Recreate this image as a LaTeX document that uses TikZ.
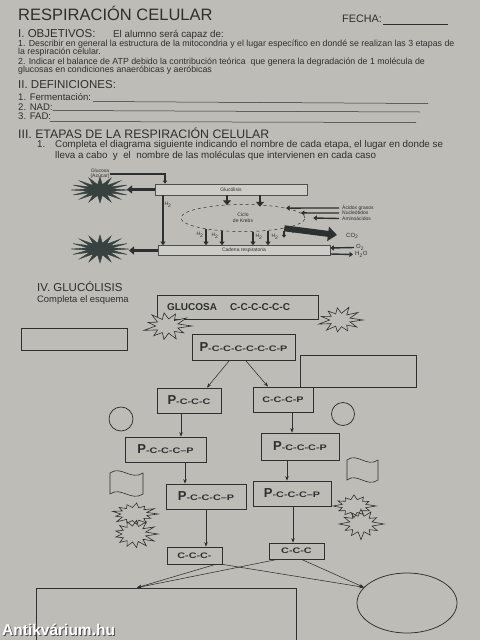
\documentclass[tikz,border=0pt]{standalone}
\usepackage{fontspec}
\setmainfont{Liberation Sans}
\usetikzlibrary{arrows.meta,calc,shapes.geometric}
\definecolor{paper}{RGB}{190,188,182}
\definecolor{ink}{RGB}{45,48,48}
\definecolor{boxfill}{RGB}{206,204,198}
\definecolor{stardark}{RGB}{55,66,64}
\newcommand\fs[1]{\fontsize{#1}{#1}\selectfont}
\newcommand\bigP{{\fs{13}\bfseries P}}
\newcommand\wc[1]{{\fs{8}\bfseries\scalebox{1.35}[1]{#1}}}
\newcommand\burst[8]{%
  \pgfmathtruncatemacro\bn{2*#5-1}%
  \begin{scope}[shift={(#1,#2)}]
  \draw[#8] (#3,0) \foreach \k in {1,...,\bn}{ -- ({#3*((1-mod(\k,2))*(1-0.22*abs(sin(\k*#7))) + mod(\k,2)*#6)*cos(\k*180/#5)},{#4*((1-mod(\k,2))*(1-0.22*abs(sin(\k*#7))) + mod(\k,2)*#6)*sin(\k*180/#5)}) } -- cycle;
  \end{scope}}
\begin{document}
\begin{tikzpicture}[x=1pt,y=-1pt,
  every node/.style={inner sep=0pt, text=ink},
  txt/.style={anchor=base west, font=\fs{8.8}},
  deftxt/.style={anchor=base west, font=\fs{9.6}},
  headtxt/.style={anchor=base west, font=\fs{11.5}},
  tinytxt/.style={font=\fs{5}},
  uline/.style={draw=ink, line width=0.5pt},
  pbox/.style={draw=ink!85, fill=boxfill, line width=0.6pt, font=\fs{5}},
  thickarr/.style={draw=ink, line width=2.8pt, -{Triangle[length=5pt 0 0,width=8pt 0 0]}},
  medarr/.style={draw=ink, line width=1.4pt, -{Triangle[length=3.5pt 0 0,width=5pt 0 0]}},
  bigarr/.style={draw=ink, line width=6pt, -{Triangle[length=9pt 0 0,width=14pt 0 0]}},
  gbox/.style={draw=ink, line width=0.75pt},
  arr/.style={draw=ink, line width=0.55pt, -{Stealth[length=4.5pt 0 0,width=3.5pt 0 0]}},
  inkline/.style={draw=ink, line width=0.6pt},
  darkstar/.style={fill=stardark, draw=stardark, line width=0.4pt},
  outstar/.style={draw=ink, line width=0.6pt},
]
\fill[paper] (0,0) rectangle (480,640);
\useasboundingbox (0,0) rectangle (480,640);

% ---------- header ----------
\node[anchor=base west, font=\fs{16.5}] (title) at (18,20.5) {RESPIRACIÓN CELULAR};
\node[anchor=base west, font=\fs{10.8}] (fecha) at (342,22) {FECHA:};
\draw[uline] ([xshift=1pt,yshift=-2.5pt]fecha.base east) -- ++(65,0);

% ---------- I ----------
\node[headtxt] (obj) at (18,37.5) {I. OBJETIVOS:};
\node[anchor=base west, font=\fs{9.8}] (capaz) at (113,37) {El alumno será capaz de:};
\node[txt] (o1a) at (18,46.5) {1. Describir en general la estructura de la mitocondria y el lugar específico en dondé se realizan las 3 etapas de};
\node[txt] (o1b) at (18,54.5) {la respiración celular.};
\node[txt] (o2a) at (18,64) {2. Indicar el balance de ATP debido la contribución teórica \ que genera la degradación de 1 molécula de};
\node[txt] (o2b) at (18,72) {glucosas en condiciones anaeróbicas y aeróbicas};

% ---------- II ----------
\node[headtxt] (def) at (18,88.5) {II. DEFINICIONES:};
\node[deftxt] (d1) at (18,100) {1. Fermentación:};
\draw[uline] (93,101.5) -- (428,103.5);
\node[deftxt] (d2) at (18,110) {2. NAD:};
\draw[uline] (53,110.5) -- (420,112);
\node[deftxt] (d3) at (18,119.5) {3. FAD:};
\draw[uline] (50,121.5) -- (416,122.5);

% ---------- III ----------
\node[anchor=base west, font=\fs{12.3}] (etapas) at (18,138) {III. ETAPAS DE LA RESPIRACIÓN CELULAR};
\node[anchor=base west, font=\fs{9.8}] (c1n) at (37,147.5) {1.};
\node[anchor=base west, font=\fs{9.8}] (c1a) at (55,147.5) {Completa el diagrama siguiente indicando el nombre de cada etapa, el lugar en donde se};
\node[anchor=base west, font=\fs{9.8}] (c1b) at (55,158) {lleva a cabo \ y \ el \ nombre de las moléculas que intervienen en cada caso};

% diagram
\node[pbox, minimum width=152pt, minimum height=11pt] (gly) at (231,189.5) {Glucólisis};
\node[pbox, minimum width=172pt, minimum height=10pt] (cad) at (244,250.5) {Cadena respiratoria};
\node[draw=ink, dashed, line width=0.5pt, ellipse, minimum width=124pt, minimum height=27pt, align=center, font=\fs{5}] (kreb) at (243,218) {Ciclo\\[1pt]de Krebs};
\node[tinytxt, align=center] (glc) at (100,174) {Glucosa\\(Azúcar)};
\draw[draw=ink, line width=1.2pt, -{Triangle[length=3pt 0 0,width=4pt 0 0]}] (glc.east) -| ([xshift=-66pt]gly.north);

\burst{100}{190}{29}{13}{16}{0.42}{0}{darkstar}
\burst{100}{249}{29}{14}{16}{0.42}{0}{darkstar}
\coordinate (st1) at (127,189.5);
\coordinate (st2) at (129,250.5);
\draw[thickarr] (gly.west) -- (st1);
\draw[thickarr] (cad.west) -- (st2);

\draw[thickarr] ([xshift=-4pt]gly.south) -- ([xshift=-16pt,yshift=-1pt]kreb.north);
\draw[thickarr] ([xshift=29pt]gly.south) -- ([xshift=17pt,yshift=-2.5pt]kreb.north);

\draw[draw=ink, line width=1.3pt, -{Triangle[length=3.5pt 0 0,width=5pt 0 0]}] ([xshift=-68pt]gly.south) -- ([xshift=-81pt]cad.north);
\node[tinytxt] (hv) at (168,205) {H\textsubscript{2}};

\foreach \a/\b/\c in {-37/-38/2.5,-21/-22/0.7,10/9/0,25/24/1.2}{
  \draw[medarr] ([xshift=\a pt,yshift=\c pt]kreb.south) -- ([xshift=\b pt]cad.north);}
\node[tinytxt] (h1) at (200,235) {H\textsubscript{2}};
\node[tinytxt] (h2) at (215,235.5) {H\textsubscript{2}};
\node[tinytxt] (h3) at (259,237) {H\textsubscript{2}};
\node[tinytxt] (h4) at (275,236.5) {H\textsubscript{2}};
\draw[draw=ink, line width=1.4pt, -{Triangle[length=3pt 0 0,width=4.5pt 0 0]}] ([xshift=41pt,yshift=1pt]kreb.south) -- ++(0,7);
\node[tinytxt] (h5) at (292,231) {H\textsubscript{2}};

\node[tinytxt, anchor=west] (ag) at (342,208) {Ácidos grasos};
\node[tinytxt, anchor=west] (nu) at (342,213) {Nucleótidos};
\node[tinytxt, anchor=west] (am) at (342,218.5) {Aminoácidos};
\draw[medarr] ([xshift=-3pt]ag.west) -- (kreb.13);
\draw[medarr] ([xshift=-3pt]nu.west) -- (kreb.5);
\draw[medarr] ([xshift=-3pt]am.west) -- ([xshift=8pt]kreb.east);

\node[anchor=west, font=\fs{6}] (co2) at (346,236) {CO\textsubscript{2}};
\draw[bigarr] (kreb.-14) -- ([xshift=-9pt,yshift=1pt]co2.west);
\node[anchor=west, font=\fs{6}] (o2) at (356,247.5) {O\textsubscript{2}};
\node[anchor=west, font=\fs{6}] (h2o) at (355,254.5) {H\textsubscript{2}O};
\draw[medarr] ([xshift=-2pt]o2.west) -- ([yshift=2.5pt]cad.east);
\draw[medarr] ([yshift=-3.5pt]cad.east) -- ([xshift=-2pt]h2o.west);

% ---------- IV ----------
\node[anchor=base west, font=\fs{11.5}] (glucol) at (37,291.5) {IV. GLUCÓLISIS};
\node[anchor=base west, font=\fs{9.4}] (esq) at (37,302) {Completa el esquema};

\node[gbox, minimum width=161pt, minimum height=24pt, font=\fs{10}\bfseries] (glu) at (237.5,307) {GLUCOSA\hspace{13pt}C-C-C-C-C-C\hspace*{18pt}};
\node[gbox, minimum width=106pt, minimum height=22pt] (lbox) at (74,339) {};
\node[gbox, minimum width=103pt, minimum height=26pt] (pcp6) at (243.5,347) {\bigP\wc{-C-C-C-C-C-C-P}};
\node[gbox, minimum width=116pt, minimum height=32pt] (rbox) at (358,371) {};
\node[gbox, minimum width=64pt, minimum height=25pt] (pccc) at (189,400.5) {\bigP\wc{-C-C-C}};
\node[gbox, minimum width=60pt, minimum height=25pt] (cccp) at (283,399.5) {\wc{C-C-C-P}};
\node[gbox, circle, minimum size=24pt] (cir1) at (121,419) {};
\node[gbox, circle, minimum size=23pt] (cir2) at (343,414) {};
\node[gbox, minimum width=81pt, minimum height=25pt] (l2) at (165.5,449.5) {\bigP\wc{-C-C-C–P}};
\node[gbox, minimum width=78pt, minimum height=27pt] (r2) at (300,446.5) {\bigP\wc{-C-C-C-P}};
\node[gbox, minimum width=80pt, minimum height=25pt] (l3) at (206,496.5) {\bigP\wc{-C-C-C–P}};
\node[gbox, minimum width=78pt, minimum height=25pt] (r3) at (292,493.5) {\bigP\wc{-C-C-C–P}};
\node[gbox, minimum width=55pt, minimum height=17pt] (l4) at (194.5,555.5) {\wc{C-C-C-}};
\node[gbox, minimum width=55pt, minimum height=16pt] (r4) at (296.5,551) {\wc{C-C-C}};
\node[gbox, minimum width=260pt, minimum height=74pt] (bigbox) at (166,625) {};
\node[gbox, ellipse, minimum width=100pt, minimum height=60pt] (ell) at (407,603) {};

% flags
\draw[inkline] (110,473) .. controls (121,465) and (131,481) .. (143,473) -- (143,494) .. controls (131,502) and (121,486) .. (110,494) -- cycle;
\draw[inkline] (347,460) .. controls (357,452) and (367,468) .. (378,460) -- (378,480) .. controls (367,488) and (357,472) .. (347,480) -- cycle;

% starbursts
\burst{167}{326}{25}{16}{11}{0.45}{53}{outstar, fill=paper}
\burst{340}{320}{23}{15}{11}{0.45}{71}{outstar, fill=paper}
\burst{134}{514}{24}{12}{13}{0.55}{37}{outstar}
\burst{134}{534}{24}{16}{13}{0.5}{83}{outstar}
\burst{354}{506}{22}{12}{12}{0.55}{29}{outstar}
\burst{361}{524}{23}{16}{12}{0.5}{61}{outstar}

% arrows
\draw[arr] ([xshift=-14pt]pcp6.south) -- ([xshift=18pt]pccc.north);
\draw[arr] ([xshift=2pt]pcp6.south) -- ([xshift=-15pt]cccp.north);
\draw[arr] ([xshift=-8pt]pccc.south) -- ([xshift=15.5pt]l2.north);
\draw[arr] ([xshift=9pt]cccp.south) -- ([xshift=-8pt]r2.north);
\draw[arr] ([xshift=19.5pt]l2.south) -- ([xshift=-21pt]l3.north);
\draw[arr] ([xshift=-13pt]r2.south) -- ([xshift=-5pt]r3.north);
\draw[arr] (l3.south) -- ([xshift=11.5pt]l4.north);
\draw[arr] ([xshift=1pt]r3.south) -- ([xshift=-3.5pt]r4.north);
\draw[arr] ([xshift=21pt]l4.south) -- ([xshift=-29pt]bigbox.north);
\draw[arr] ([xshift=-19pt]r4.south) -- ([xshift=-29pt]bigbox.north);
\draw[arr] (l4.south east) -- (ell.160);
\draw[arr] ([xshift=5pt]r4.south) -- (ell.160);

% watermark
\node[anchor=base west, font=\fs{15.5}\bfseries, text=black!70] (wmshadow) at (3,636.5) {Antikvárium.hu};
\node[anchor=base west, font=\fs{15.5}\bfseries, text=white] (wm) at (2,635.5) {Antikvárium.hu};
\end{tikzpicture}
\end{document}
